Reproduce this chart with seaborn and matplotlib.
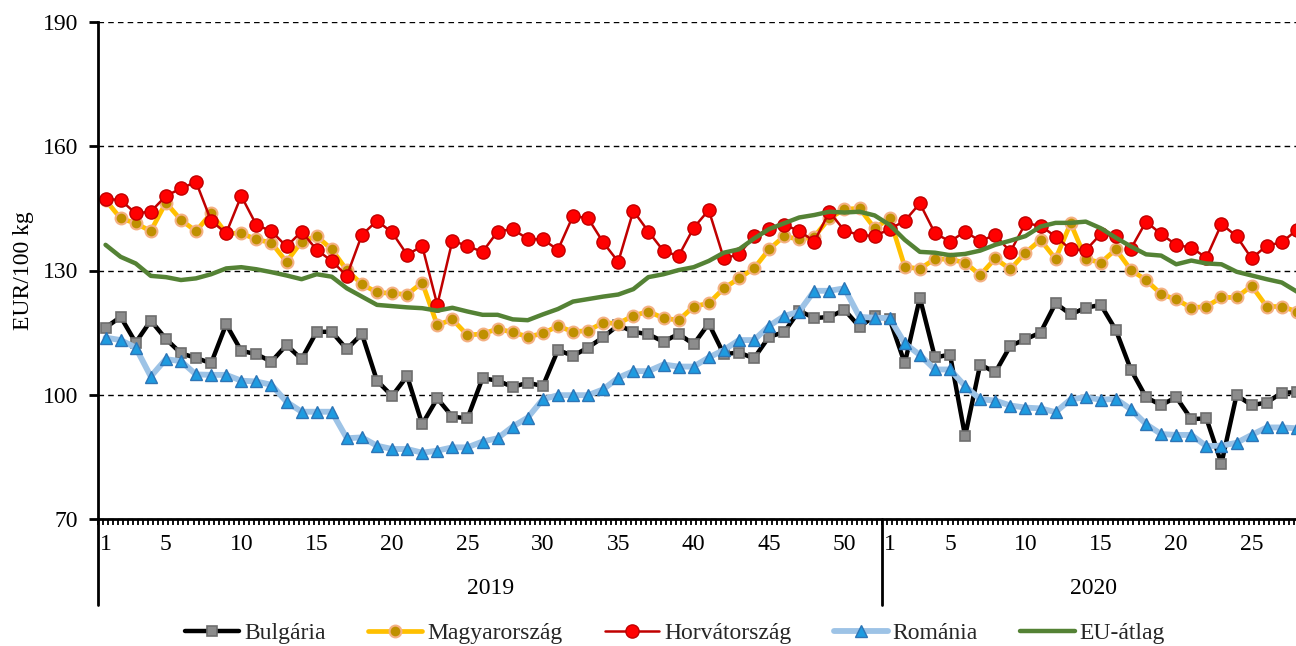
import numpy as np
import pandas as pd
import matplotlib
matplotlib.use("Agg")
import matplotlib.pyplot as plt
import seaborn as sns
from matplotlib.transforms import blended_transform_factory

# ---- data ----
years = ["2019", "2020"]
weeks_2019 = list(range(1, 53))
weeks_2020 = list(range(1, 29))
tick_weeks_2019 = [1, 5, 10, 15, 20, 25, 30, 35, 40, 45, 50]
tick_weeks_2020 = [1, 5, 10, 15, 20, 25]

bulgaria = [116.2, 118.8, 112.6, 117.9, 113.5, 110.0, 108.9, 107.6, 117.0, 110.6,
            109.8, 108.0, 112.0, 108.6, 115.2, 115.2, 111.0, 114.7, 103.4, 99.7,
            104.5, 92.9, 99.1, 94.7, 94.3, 104.0, 103.4, 101.9, 102.9, 102.1,
            110.8, 109.4, 111.4, 113.9, 116.8, 115.2, 114.6, 112.8, 114.7, 112.2,
            117.2, 109.8, 110.2, 108.8, 114.0, 115.1, 120.3, 118.5, 118.8, 120.5,
            116.4, 119.0,
            118.2, 107.6, 123.4, 109.0, 109.7, 90.0, 107.3, 105.4, 111.8, 113.4,
            115.0, 122.1, 119.4, 121.0, 121.7, 115.6, 106.0, 99.4, 97.5, 99.4,
            94.1, 94.3, 83.4, 99.9, 97.5, 98.1, 100.5, 100.6]

magyarorszag = [147.0, 142.6, 141.4, 139.5, 146.4, 142.2, 139.5, 143.8, 139.0, 139.0,
                137.5, 136.7, 132.1, 137.0, 138.3, 135.1, 130.1, 126.7, 124.7, 124.5,
                124.2, 127.1, 116.8, 118.2, 114.4, 114.7, 115.9, 115.1, 114.0, 114.8,
                116.6, 115.2, 115.5, 117.4, 117.2, 119.1, 120.1, 118.5, 118.0, 121.3,
                122.1, 125.7, 128.1, 130.5, 135.1, 138.3, 137.5, 138.2, 142.6, 144.8,
                145.0, 140.2,
                142.6, 130.9, 130.4, 132.8, 132.7, 131.9, 128.9, 132.9, 130.3, 134.3,
                137.4, 132.8, 141.4, 132.8, 131.9, 135.1, 130.1, 127.7, 124.3, 123.0,
                121.0, 121.3, 123.5, 123.5, 126.3, 121.3, 121.3, 120.1]

horvatorszag = [147.3, 147.0, 143.8, 144.2, 148.0, 149.8, 151.4, 142.0, 139.0, 148.0,
                141.0, 139.5, 135.8, 139.4, 135.0, 132.3, 128.7, 138.6, 142.0, 139.2,
                133.8, 135.9, 121.7, 137.2, 135.9, 134.5, 139.4, 140.0, 137.6, 137.5,
                135.0, 143.2, 142.6, 136.8, 132.1, 144.4, 139.4, 134.7, 133.5, 140.3,
                144.6, 132.9, 133.9, 138.3, 140.0, 141.0, 139.6, 137.0, 144.2, 139.6,
                138.6, 138.3,
                140.0, 142.0, 146.2, 139.0, 137.0, 139.4, 137.1, 138.6, 134.5, 141.4,
                140.8, 138.2, 135.1, 134.9, 138.8, 138.3, 135.3, 141.8, 138.8, 136.2,
                135.5, 133.1, 141.2, 138.3, 132.9, 136.0, 136.8, 139.8]

romania = [113.8, 113.2, 111.4, 104.4, 108.6, 108.1, 104.9, 104.8, 104.8, 103.4,
           103.2, 102.4, 98.3, 95.9, 95.9, 95.9, 89.5, 89.7, 87.7, 86.9,
           86.9, 86.0, 86.5, 87.3, 87.3, 88.7, 89.5, 92.3, 94.5, 98.9,
           99.9, 99.9, 99.9, 101.3, 104.1, 105.7, 105.7, 107.3, 106.8, 106.8,
           109.0, 110.8, 113.2, 113.2, 116.6, 119.0, 120.1, 125.1, 125.1, 125.7,
           118.8, 118.6,
           118.5, 112.4, 109.6, 106.1, 106.1, 102.1, 98.9, 98.6, 97.4, 96.9,
           96.7, 95.8, 98.9, 99.4, 98.8, 99.0, 96.5, 92.9, 90.5, 90.3,
           90.3, 87.6, 87.7, 88.4, 90.3, 92.1, 92.1, 91.9]

eu_atlag = [136.2, 133.3, 131.7, 128.7, 128.4, 127.7, 128.1, 129.1, 130.5, 130.8,
            130.3, 129.6, 128.8, 127.9, 129.1, 128.5, 125.7, 123.7, 121.7, 121.4,
            121.1, 120.9, 120.3, 121.0, 120.1, 119.3, 119.3, 118.2, 118.0, 119.4,
            120.7, 122.5, 123.1, 123.7, 124.2, 125.5, 128.4, 129.1, 130.1, 130.8,
            132.3, 134.3, 135.1, 137.7, 140.0, 141.4, 142.8, 143.4, 144.2, 144.0,
            144.2, 143.3,
            141.0, 137.4, 134.5, 134.3, 133.7, 134.0, 134.8, 136.2, 137.2, 138.3,
            140.6, 141.5, 141.5, 141.8, 140.2, 137.9, 135.8, 133.9, 133.6, 131.5,
            132.4, 131.7, 131.5, 129.7, 128.8, 127.9, 127.1, 124.9]

series_names = ["Bulgária", "Magyarország", "Horvátország", "Románia", "EU-átlag"]

# ---- style ----
sns.set_theme(style="white")
plt.rcParams['font.family'] = ['Liberation Serif', 'DejaVu Serif']

n = len(weeks_2019) + len(weeks_2020)
xpos = np.arange(n)
df = pd.DataFrame({"x": xpos,
                   "Bulgária": bulgaria,
                   "Magyarország": magyarorszag,
                   "Horvátország": horvatorszag,
                   "Románia": romania,
                   "EU-átlag": eu_atlag})

styles = {
    "Bulgária": dict(color="#000000", lw=3.2, marker="s", markersize=7.5,
                     markerfacecolor="#8C8C8C", markeredgecolor="#6E6E6E", markeredgewidth=1.2),
    "Magyarország": dict(color="#FFC000", lw=3.4, marker="o", markersize=8.5,
                         markerfacecolor="#BF9000", markeredgecolor="#F4B183", markeredgewidth=1.5),
    "Horvátország": dict(color="#C00000", lw=1.8, marker="o", markersize=9.5,
                         markerfacecolor="#FF0000", markeredgecolor="#C00000", markeredgewidth=1.0),
    "Románia": dict(color="#9DC3E6", lw=4.2, marker="^", markersize=9,
                    markerfacecolor="#1E9BE0", markeredgecolor="#2E75B6", markeredgewidth=1.0),
    "EU-átlag": dict(color="#548235", lw=3.2, marker=None),
}

fig = plt.figure(figsize=(12.96, 6.46), dpi=100)
W, H = 1296, 646
ax = fig.add_axes([98 / W, 1 - 519 / H, 1198 / W, 497 / H])

for name in series_names:
    kw = dict(styles[name])
    sns.lineplot(data=df, x="x", y=name, ax=ax, label=name, **kw)

ax.yaxis.grid(True, linestyle=(0, (4, 3)), color="black", lw=1.0)
ax.xaxis.grid(False)
ax.set_axisbelow(True)

for s in ["top", "right"]:
    ax.spines[s].set_visible(False)
for s in ["left", "bottom"]:
    ax.spines[s].set_color("black")
    ax.spines[s].set_linewidth(2)

# x ticks
major_pos = [w - 1 for w in tick_weeks_2019] + [len(weeks_2019) + w - 1 for w in tick_weeks_2020]
major_lab = [str(w) for w in tick_weeks_2019] + [str(w) for w in tick_weeks_2020]
ax.set_xticks(major_pos)
ax.set_xticklabels(major_lab)
ax.set_xticks(np.arange(-0.5, n + 0.5, 1 / 3), minor=True)
ax.set_yticks([70, 100, 130, 160, 190])
ax.set_xlim(-0.5, -0.5 + 1198 / 15.08)
ax.set_ylim(70, 190)
ax.tick_params(axis="x", which="major", length=0, pad=11, labelsize=17, colors="black")
ax.tick_params(axis="x", which="minor", length=4.5, width=1.3, direction="out", color="black", bottom=True)
ax.tick_params(axis="y", which="major", length=6.5, width=2, direction="out", pad=8,
               labelsize=17, colors="black", left=True)
ax.set_xlabel("")
ax.set_ylabel("EUR/100 kg", fontsize=17, color="black")
ax.yaxis.set_label_coords(-0.0534, 0.5)

# year separators and labels
trans = blended_transform_factory(ax.transData, ax.transAxes)
sep_bottom = (519 - 605) / 497
for xs in [-0.5, len(weeks_2019) - 0.5]:
    ax.plot([xs, xs], [0, sep_bottom], transform=trans, color="black", lw=2, clip_on=False)
year_y = (519 - 588) / 497
ax.text((len(weeks_2019) - 1) / 2, year_y, years[0], transform=trans,
        ha="center", va="center", fontsize=17, color="black")
ax.text(len(weeks_2019) - 0.5 + 14, year_y, years[1], transform=trans,
        ha="center", va="center", fontsize=17, color="black")

# legend
handles, labels = ax.get_legend_handles_labels()
ax.get_legend().remove()
fig.legend(handles, labels, loc="center", bbox_to_anchor=(675 / W, 1 - 633 / H),
           ncol=5, frameon=False, fontsize=17, handlelength=2.3, handletextpad=0.2,
           columnspacing=1.8)

fig.savefig("out.png", dpi=100)
